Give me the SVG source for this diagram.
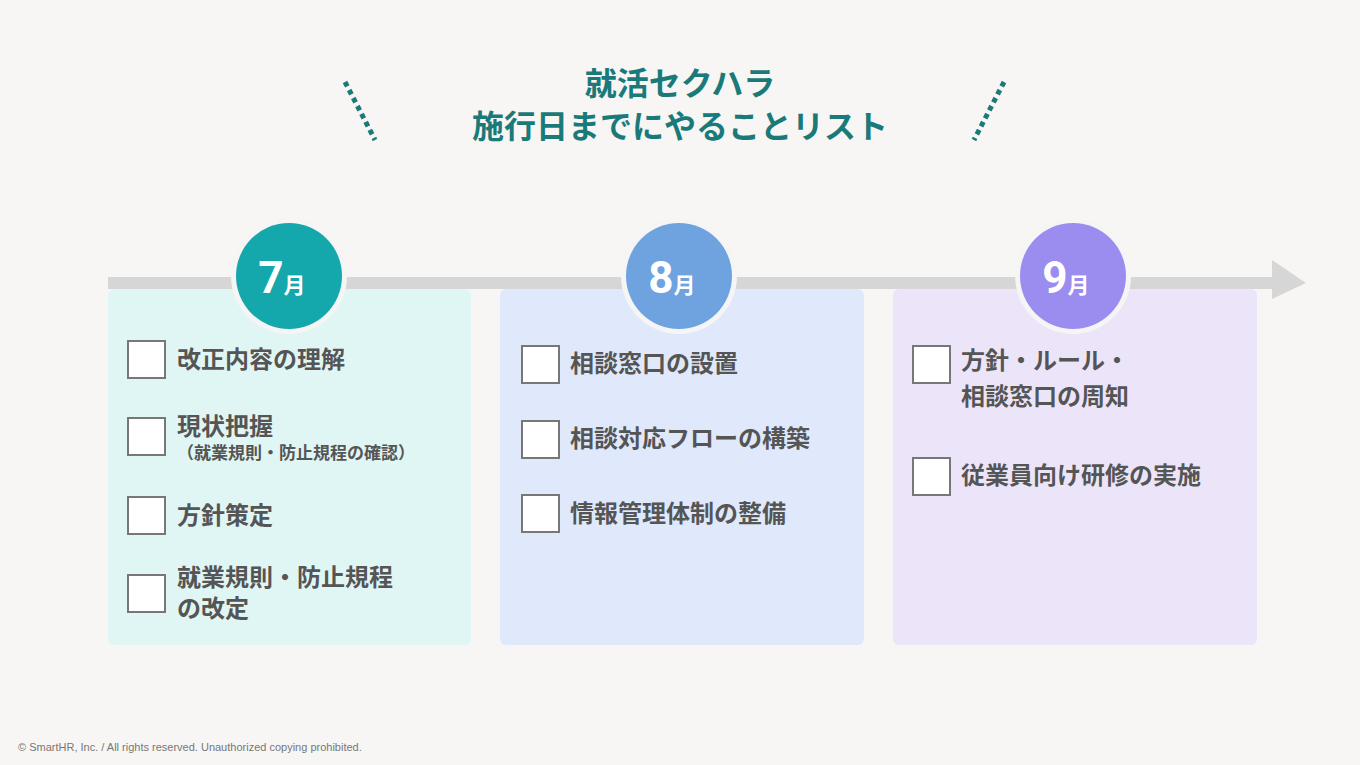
<svg xmlns="http://www.w3.org/2000/svg" width="1360" height="765" viewBox="0 0 1360 765">
<style>
.t{font-family:"Noto Sans CJK JP","Noto Sans",sans-serif;font-weight:bold;fill:#555;font-size:24px}
.s{font-size:17px}
.ttl{font-family:"Noto Sans CJK JP",sans-serif;font-weight:bold;fill:#1a7a7a;font-size:32px;text-anchor:middle}
.cb{fill:#fff;stroke:#777;stroke-width:2}
.m{font-family:"Roboto","Noto Sans CJK JP",sans-serif;font-weight:bold;fill:#fff;text-anchor:middle}
.dot{stroke:#1a7a7a;stroke-width:5;stroke-dasharray:5 4}
</style>
<rect width="1360" height="765" fill="#f7f6f4"/>
<text class="ttl" x="680" y="95">就活セクハラ</text>
<text class="ttl" x="680" y="138">施行日までにやることリスト</text>
<line class="dot" x1="345" y1="82" x2="375" y2="140"/>
<line class="dot" x1="1004" y1="82" x2="974" y2="140"/>
<g id="connectors">
<rect x="108" y="277" width="1170" height="12" fill="#d6d6d6"/>
<polygon points="1272,260 1306,283 1272,299" fill="#d6d6d6"/>
</g>
<g id="july">
<rect x="108" y="289" width="363" height="356" rx="6" fill="#e0f6f4"/>
<circle cx="289" cy="276" r="58" fill="#f5f5f5"/>
<circle cx="289" cy="276" r="53" fill="#14a8ac"/>
<text class="m" x="282" y="293" font-size="44">7<tspan font-size="22" font-family="Noto Sans CJK JP">月</tspan></text>
<rect class="cb" x="128" y="341" width="37" height="37"/>
<text class="t" x="177" y="368">改正内容の理解</text>
<rect class="cb" x="128" y="418" width="37" height="37"/>
<text class="t" x="177" y="435">現状把握</text>
<text class="t s" x="177" y="459">（就業規則・防止規程の確認）</text>
<rect class="cb" x="128" y="497" width="37" height="37"/>
<text class="t" x="177" y="524">方針策定</text>
<rect class="cb" x="128" y="575" width="37" height="37"/>
<text class="t" x="177" y="586" font-size="23">就業規則・防止規程</text>
<text class="t" x="177" y="617" font-size="23">の改定</text>
</g>
<g id="august">
<rect x="500" y="289" width="364" height="356" rx="6" fill="#dfe9fb"/>
<circle cx="679" cy="276" r="58" fill="#f5f5f5"/>
<circle cx="679" cy="276" r="53" fill="#6fa3e0"/>
<text class="m" x="672" y="293" font-size="44">8<tspan font-size="22" font-family="Noto Sans CJK JP">月</tspan></text>
<rect class="cb" x="522" y="346" width="37" height="37"/>
<text class="t" x="570" y="372">相談窓口の設置</text>
<rect class="cb" x="522" y="421" width="37" height="37"/>
<text class="t" x="570" y="447">相談対応フローの構築</text>
<rect class="cb" x="522" y="495" width="37" height="37"/>
<text class="t" x="570" y="522">情報管理体制の整備</text>
</g>
<g id="september">
<rect x="893" y="289" width="364" height="356" rx="6" fill="#ece5fa"/>
<circle cx="1073" cy="276" r="58" fill="#f5f5f5"/>
<circle cx="1073" cy="276" r="53" fill="#9b8df0"/>
<text class="m" x="1066" y="293" font-size="44">9<tspan font-size="22" font-family="Noto Sans CJK JP">月</tspan></text>
<rect class="cb" x="913" y="346" width="37" height="37"/>
<text class="t" x="961" y="369">方針・ルール・</text>
<text class="t" x="961" y="405">相談窓口の周知</text>
<rect class="cb" x="913" y="458" width="37" height="37"/>
<text class="t" x="961" y="484">従業員向け研修の実施</text>
</g>
<text x="18" y="751" font-family="Liberation Sans,sans-serif" font-size="11" fill="#777">© SmartHR, Inc. / All rights reserved. Unauthorized copying prohibited.</text>
</svg>
